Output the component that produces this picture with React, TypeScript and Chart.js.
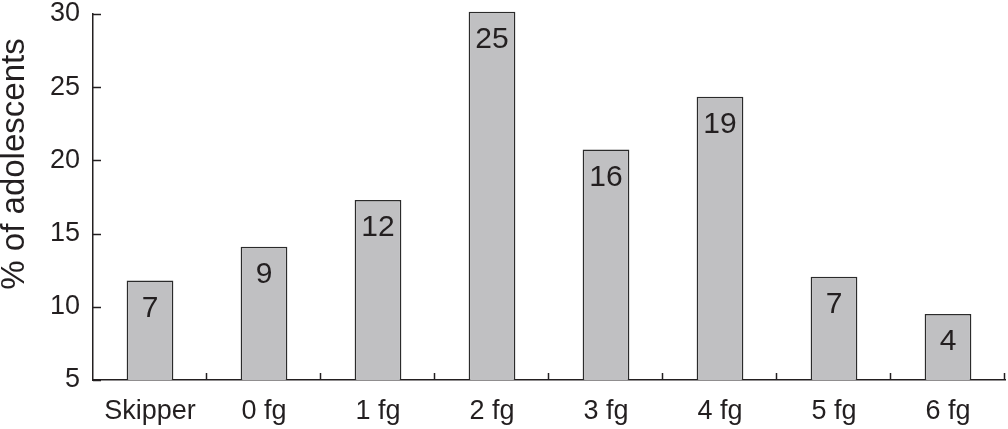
import React, { useEffect, useRef } from "react";
import { Chart, registerables } from "chart.js";

Chart.register(...registerables);

const categories = ["Skipper", "0 fg", "1 fg", "2 fg", "3 fg", "4 fg", "5 fg", "6 fg"];
const percentValues = [11.8, 14.1, 17.3, 30.15, 20.75, 24.35, 12.05, 9.5];
const barLabels = ["7", "9", "12", "25", "16", "19", "7", "4"];
const yTickValues = [5, 10, 15, 20, 25, 30];
const yTitle = "% of adolescents";

const FONT = "'Liberation Sans', Arial, Helvetica, sans-serif";
const INK = "#231f20";

const decorPlugin = {
  id: "decor",
  afterDatasetsDraw(chart: any) {
    const ctx = chart.ctx;
    const xs = chart.scales.x;
    const ys = chart.scales.y;
    const area = chart.chartArea;
    ctx.save();
    ctx.strokeStyle = INK;
    ctx.lineWidth = 1.5;
    yTickValues.forEach((v) => {
      const y = Math.round(ys.getPixelForValue(v)) + 0.5;
      ctx.beginPath();
      ctx.moveTo(area.left, y);
      ctx.lineTo(area.left + 8, y);
      ctx.stroke();
    });
    const n = categories.length;
    const w = (area.right - area.left) / n;
    for (let k = 1; k <= n; k++) {
      const x = Math.round(area.left + k * w) - 0.5;
      ctx.beginPath();
      ctx.moveTo(x, area.bottom);
      ctx.lineTo(x, area.bottom - 7);
      ctx.stroke();
    }
    const meta = chart.getDatasetMeta(0);
    ctx.fillStyle = INK;
    ctx.font = `30px ${FONT}`;
    ctx.textAlign = "center";
    ctx.textBaseline = "middle";
    meta.data.forEach((bar: any, i: number) => {
      ctx.fillText(barLabels[i], bar.x, bar.y + 28);
    });
    ctx.save();
    ctx.translate(15, 164);
    ctx.rotate(-Math.PI / 2);
    ctx.font = `33px ${FONT}`;
    ctx.textAlign = "center";
    ctx.textBaseline = "middle";
    ctx.fillText(yTitle, 0, 0);
    ctx.restore();
    ctx.restore();
  },
};

export default function App() {
  const ref = useRef<HTMLCanvasElement>(null);
  useEffect(() => {
    if (!ref.current) return;
    const chart = new Chart(ref.current, {
      type: "bar",
      data: {
        labels: categories,
        datasets: [
          {
            data: percentValues,
            backgroundColor: "#c0c0c2",
            borderColor: "#2b2b2b",
            borderWidth: 1.5,
            barPercentage: 0.41,
            categoryPercentage: 1,
            clip: false as any,
            base: 5,
          },
        ],
      },
      options: {
        animation: false,
        responsive: false,
        maintainAspectRatio: false,
        layout: { padding: { top: 14, right: 3, left: 0, bottom: 0 } },
        plugins: { legend: { display: false }, tooltip: { enabled: false } },
        scales: {
          x: {
            grid: { display: false, drawTicks: false },
            border: { display: true, color: INK, width: 1.5 },
            ticks: { font: { size: 27, family: FONT }, color: INK, padding: 15, maxRotation: 0 },
            afterFit: (s: any) => {
              s.height = 49;
              s.paddingLeft = 0;
              s.paddingRight = 0;
            },
          },
          y: {
            min: 5,
            max: 30,
            grid: { display: false, drawTicks: false },
            border: { display: true, color: INK, width: 1.5 },
            ticks: { stepSize: 5, font: { size: 27, family: FONT }, color: INK, padding: 13 },
            afterFit: (s: any) => {
              s.width = 93;
              s.paddingTop = 0;
              s.paddingBottom = 0;
            },
          },
        },
      },
      plugins: [decorPlugin],
    });
    return () => chart.destroy();
  }, []);
  return (
    <div style={{ position: "absolute", left: 0, top: 0, width: 1008, height: 429, background: "#fff" }}>
      <canvas ref={ref} width={1008} height={429} style={{ width: 1008, height: 429 }} />
    </div>
  );
}
